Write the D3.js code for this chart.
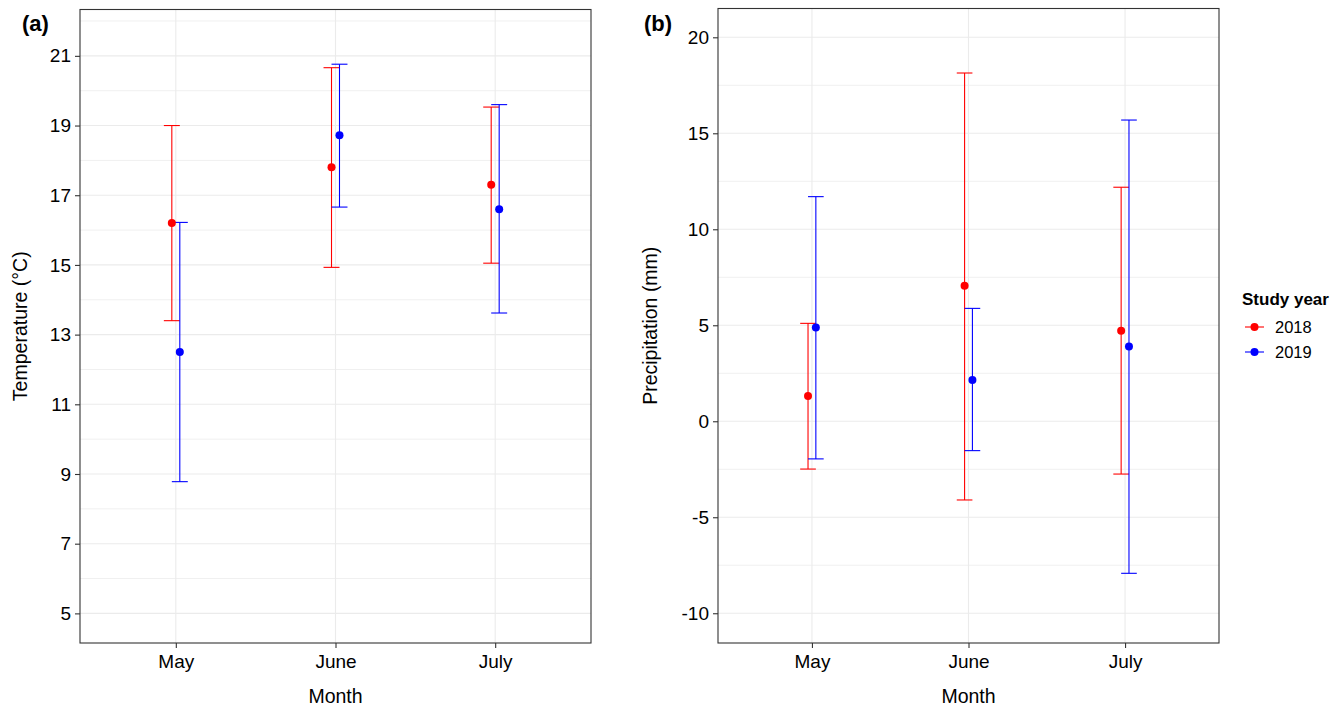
<!DOCTYPE html>
<html>
<head>
<meta charset="utf-8">
<script src="https://cdn.jsdelivr.net/npm/d3@7"></script>
<style>
  body { margin: 0; background: #fff; }
  text { font-family: "Liberation Sans", Arial, sans-serif; }
</style>
</head>
<body>
<svg id="chart" width="1343" height="708"></svg>
<script>
var months = ['May', 'June', 'July'];
var years = ['2018', '2019'];
var yearColours = ['#ff0000', '#0000ff'];

// temperature (degC): mean, lower, upper for each month
var temp2018Mean = [16.2, 17.8, 17.3];
var temp2018Low = [13.4, 14.93, 15.05];
var temp2018High = [19.0, 20.66, 19.53];
var temp2019Mean = [12.5, 18.72, 16.6];
var temp2019Low = [8.78, 16.66, 13.62];
var temp2019High = [16.22, 20.76, 19.6];

// precipitation (mm)
var prec2018Mean = [1.32, 7.06, 4.72];
var prec2018Low = [-2.49, -4.1, -2.75];
var prec2018High = [5.1, 18.14, 12.19];
var prec2019Mean = [4.88, 2.15, 3.89];
var prec2019Low = [-1.96, -1.53, -7.92];
var prec2019High = [11.7, 5.88, 15.69];

var tempTicks = [5, 7, 9, 11, 13, 15, 17, 19, 21];
var tempMinor = [6, 8, 10, 12, 14, 16, 18, 20, 22];
var precTicks = [-10, -5, 0, 5, 10, 15, 20];
var precMinor = [-7.5, -2.5, 2.5, 7.5, 12.5, 17.5];

function rows(means, lows, highs, year) {
  return months.map(function(m, i) {
    return {month: m, year: year, mean: means[i], low: lows[i], high: highs[i]};
  });
}

var tempData = rows(temp2018Mean, temp2018Low, temp2018High, '2018')
  .concat(rows(temp2019Mean, temp2019Low, temp2019High, '2019'));
var precData = rows(prec2018Mean, prec2018Low, prec2018High, '2018')
  .concat(rows(prec2019Mean, prec2019Low, prec2019High, '2019'));

var svg = d3.select('#chart');
var colour = d3.scaleOrdinal().domain(years).range(yearColours);

function panel(opt) {
  var x = d3.scalePoint().domain(months).range([opt.left, opt.right]).padding(0.6);
  var y = d3.scaleLinear().domain(opt.domain).range([opt.bottom, opt.top]);
  var step = x.step();
  var dodge = d3.scalePoint().domain(years).range([-0.025 * step, 0.025 * step]);
  var g = svg.append('g');

  // grid
  g.selectAll('.minor').data(opt.minor).enter().append('line')
    .attr('x1', opt.left).attr('x2', opt.right)
    .attr('y1', function(d) { return y(d); }).attr('y2', function(d) { return y(d); })
    .attr('stroke', '#f0f0f0').attr('stroke-width', 1);
  g.selectAll('.major').data(opt.ticks).enter().append('line')
    .attr('x1', opt.left).attr('x2', opt.right)
    .attr('y1', function(d) { return y(d); }).attr('y2', function(d) { return y(d); })
    .attr('stroke', '#ebebeb').attr('stroke-width', 1.1);
  g.selectAll('.vgrid').data(months).enter().append('line')
    .attr('x1', function(d) { return x(d); }).attr('x2', function(d) { return x(d); })
    .attr('y1', opt.top).attr('y2', opt.bottom)
    .attr('stroke', '#ebebeb').attr('stroke-width', 1.1);

  // error bars
  var bars = g.selectAll('.eb').data(opt.data).enter().append('g')
    .attr('stroke', function(d) { return colour(d.year); })
    .attr('stroke-width', 1.1);
  function cx(d) { return x(d.month) + dodge(d.year); }
  bars.append('line')
    .attr('x1', cx).attr('x2', cx)
    .attr('y1', function(d) { return y(d.low); }).attr('y2', function(d) { return y(d.high); });
  bars.append('line')
    .attr('x1', function(d) { return cx(d) - 0.05 * step; })
    .attr('x2', function(d) { return cx(d) + 0.05 * step; })
    .attr('y1', function(d) { return y(d.low); }).attr('y2', function(d) { return y(d.low); });
  bars.append('line')
    .attr('x1', function(d) { return cx(d) - 0.05 * step; })
    .attr('x2', function(d) { return cx(d) + 0.05 * step; })
    .attr('y1', function(d) { return y(d.high); }).attr('y2', function(d) { return y(d.high); });
  g.selectAll('.pt').data(opt.data).enter().append('circle')
    .attr('cx', cx).attr('cy', function(d) { return y(d.mean); })
    .attr('r', 4).attr('fill', function(d) { return colour(d.year); });

  // border
  g.append('rect')
    .attr('x', opt.left).attr('y', opt.top)
    .attr('width', opt.right - opt.left).attr('height', opt.bottom - opt.top)
    .attr('fill', 'none').attr('stroke', '#333').attr('stroke-width', 1.1);

  // axes
  var ay = g.append('g').attr('transform', 'translate(' + opt.left + ',0)')
    .call(d3.axisLeft(y).tickValues(opt.ticks).tickSize(5).tickPadding(4)
      .tickFormat(function(d) { return String(d); }));
  var ax = g.append('g').attr('transform', 'translate(0,' + opt.bottom + ')')
    .call(d3.axisBottom(x).tickSize(5).tickPadding(6));
  [ay, ax].forEach(function(a) {
    a.select('.domain').remove();
    a.selectAll('.tick line').attr('stroke', '#333').attr('stroke-width', 1.1);
    a.selectAll('.tick text').attr('fill', '#000').style('font-size', '19px')
      .style('font-family', '"Liberation Sans", Arial, sans-serif');
  });
  ax.selectAll('.tick text').attr('dy', '0.75em');

  g.append('text')
    .attr('x', (opt.left + opt.right) / 2).attr('y', 703)
    .attr('text-anchor', 'middle').style('font-size', '19.5px').text('Month');
  g.append('text')
    .attr('transform', 'translate(' + opt.titleX + ',' + ((opt.top + opt.bottom) / 2) + ') rotate(-90)')
    .attr('text-anchor', 'middle').style('font-size', '19.5px').text(opt.title);
  g.append('text')
    .attr('x', opt.tagX).attr('y', 31)
    .style('font-size', '22px').style('font-weight', 'bold').text(opt.tag);
}

panel({left: 80, right: 591, top: 9.5, bottom: 643, domain: [4.15, 22.33],
  ticks: tempTicks, minor: tempMinor, data: tempData,
  title: 'Temperature (\u00B0C)', titleX: 27, tag: '(a)', tagX: 22});
panel({left: 718, right: 1219, top: 8.5, bottom: 643, domain: [-11.55, 21.5],
  ticks: precTicks, minor: precMinor, data: precData,
  title: 'Precipitation (mm)', titleX: 657, tag: '(b)', tagX: 644});

// legend
var legend = svg.append('g').attr('transform', 'translate(1242,0)');
legend.append('text').attr('x', 0).attr('y', 305)
  .style('font-size', '17px').style('font-weight', 'bold').text('Study year');
var keys = legend.selectAll('.key').data(years).enter().append('g')
  .attr('transform', function(d, i) { return 'translate(0,' + (327 + i * 25) + ')'; });
keys.append('line').attr('x1', 3).attr('x2', 22).attr('y1', 0).attr('y2', 0)
  .attr('stroke', function(d) { return colour(d); }).attr('stroke-width', 1.1);
keys.append('circle').attr('cx', 12.5).attr('cy', 0).attr('r', 4)
  .attr('fill', function(d) { return colour(d); });
keys.append('text').attr('x', 33).attr('y', 0).attr('dy', '0.35em')
  .style('font-size', '16.5px').text(function(d) { return d; });
</script>
</body>
</html>
